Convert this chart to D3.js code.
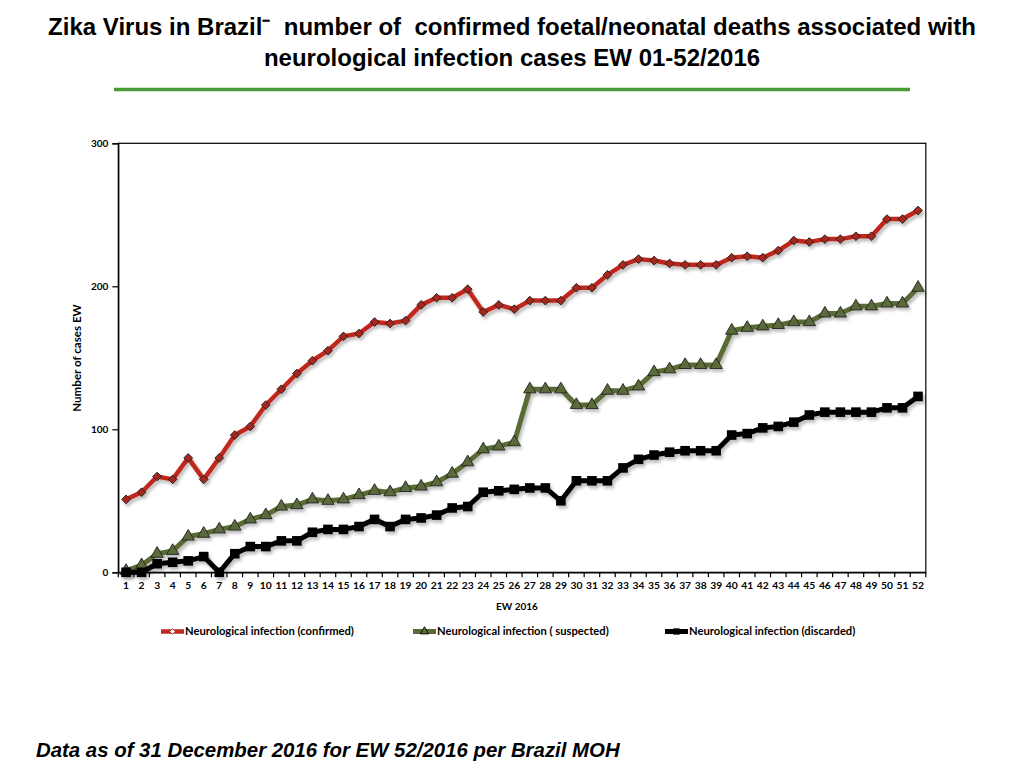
<!DOCTYPE html>
<html><head><meta charset="utf-8">
<script src="https://cdn.jsdelivr.net/npm/d3@7"></script>
<style>
html,body{margin:0;padding:0;background:#fff;}
svg{display:block;}
</style></head>
<body>
<svg id="chart" width="1024" height="768"></svg>
<script>
const weeks = d3.range(1, 53);
const confirmed = [51,56,67,65,80,65,80,96,102,117,128,139,148,155,165,167,175,174,176,187,192,192,198,182,187,184,190,190,190,199,199,208,215,219,218,216,215,215,215,220,221,220,225,232,231,233,233,235,235,247,247,253];
const suspected = [1,5,13,15,25,27,30,32,37,40,46,47,51,50,51,54,57,56,59,60,63,69,77,86,88,91,128,128,128,117,117,127,127,130,140,142,145,145,145,169,171,172,173,175,175,181,181,186,186,188,188,199];
const discarded = [0,0,6,7,8,11,0,13,18,18,22,22,28,30,30,32,37,32,37,38,40,45,46,56,57,58,59,59,50,64,64,64,73,79,82,84,85,85,85,96,97,101,102,105,110,112,112,112,112,115,115,123];
const yTicks = [0,100,200,300];
const seriesNames = ["Neurological infection (confirmed)","Neurological infection ( suspected)","Neurological infection (discarded)"];

const svg = d3.select("#chart");
const L = 118.3, R = 925.8, T = 143.3, B = 572.3;
const x = d3.scaleBand().domain(weeks).range([L, R]);
const y = d3.scaleLinear().domain([0, 300]).range([B, T]);
const cx = d => x(d) + x.bandwidth()/2;

// shadow filter
const defs = svg.append("defs");
const f = defs.append("filter").attr("id","sh").attr("x","-10%").attr("y","-10%").attr("width","120%").attr("height","130%");
f.append("feGaussianBlur").attr("in","SourceAlpha").attr("stdDeviation",1.6).attr("result","b");
f.append("feOffset").attr("in","b").attr("dx",1.5).attr("dy",3).attr("result","o");
f.append("feComponentTransfer").attr("in","o").attr("result","o2").append("feFuncA").attr("type","linear").attr("slope",0.25);
const m = f.append("feMerge"); m.append("feMergeNode").attr("in","o2"); m.append("feMergeNode").attr("in","SourceGraphic");

// Title
const title = svg.append("g").attr("font-family","Liberation Sans, Arial, sans-serif").attr("font-weight","bold").attr("font-size",24).attr("text-anchor","middle").attr("fill","#000");
title.append("text").attr("x",512).attr("y",35).attr("xml:space","preserve").style("white-space","pre")
  .text("Zika Virus in Brazil\u207B  number of  confirmed foetal/neonatal deaths associated with");
title.append("text").attr("x",512).attr("y",66).text("neurological infection cases EW 01-52/2016");
svg.append("line").attr("x1",114).attr("x2",910).attr("y1",89.5).attr("y2",89.5).attr("stroke","#4b9a3a").attr("stroke-width",3.5);

// Frame
svg.append("rect").attr("x",L).attr("y",T).attr("width",R-L).attr("height",B-T).attr("fill","none").attr("stroke","#000").attr("stroke-width",1.2);

// Y axis
const yAxis = svg.append("g").attr("transform",`translate(${L},0)`)
  .call(d3.axisLeft(y).tickValues(yTicks).tickSize(6).tickPadding(4).tickFormat(d3.format("d")));
yAxis.select(".domain").attr("stroke","#000").attr("stroke-width",1.2);
yAxis.selectAll(".tick line").attr("stroke","#000").attr("stroke-width",1.2);
yAxis.selectAll("text").attr("font-family","Lato, sans-serif").attr("font-weight","bold").attr("font-size",10).attr("fill","#000");

// X axis
const xAxis = svg.append("g").attr("transform",`translate(0,${B})`)
  .call(d3.axisBottom(x).tickSize(0).tickPadding(9));
xAxis.select(".domain").attr("stroke","#000").attr("stroke-width",1.2);
xAxis.selectAll("text").attr("font-family","Lato, sans-serif").attr("font-weight","bold").attr("font-size",10.3).attr("fill","#000");
// tick marks at band boundaries
svg.append("g").selectAll("line").data(weeks.concat([53])).join("line")
  .attr("x1", d => d <= 52 ? x(d) : R).attr("x2", d => d <= 52 ? x(d) : R)
  .attr("y1", B).attr("y2", B+5).attr("stroke","#000").attr("stroke-width",1.2);

// Axis labels
svg.append("text").attr("x",517).attr("y",610).attr("text-anchor","middle")
  .attr("font-family","Lato, sans-serif").attr("font-weight","bold").attr("font-size",10).text("EW 2016");
svg.append("text").attr("transform","translate(81,358) rotate(-90)").attr("text-anchor","middle")
  .attr("font-family","Lato, sans-serif").attr("font-weight","bold").attr("font-size",11.6).text("Number of cases EW");

const line = d3.line().x((d,i) => cx(weeks[i])).y(d => y(d));

const styles = [
  {data: confirmed, color:"#c0281d", width:4.5, marker:"diamond", mfill:"#a8281e", msize:38},
  {data: suspected, color:"#5a6b35", width:5, marker:"triangle", mfill:"#5a6b3a", msize:66},
  {data: discarded, color:"#000000", width:5, marker:"square", mfill:"#000", msize:92}
];
const symType = {diamond:d3.symbolDiamond, triangle:d3.symbolTriangle, square:d3.symbolSquare};

[1,2,0].forEach(k => {
  const s = styles[k];
  const g = svg.append("g").attr("filter","url(#sh)");
  g.append("path").datum(s.data).attr("d", line).attr("fill","none")
    .attr("stroke", s.color).attr("stroke-width", s.width).attr("stroke-linejoin","round");
  const sym = k===0 ? d3.symbol().type(d3.symbolSquare).size(s.msize) : d3.symbol().type(symType[s.marker]).size(s.msize);
  g.selectAll("path.m").data(s.data).join("path").attr("class","m")
    .attr("transform",(d,i) => `translate(${cx(weeks[i])},${y(d)})` + (k===0 ? " rotate(45)" : ""))
    .attr("d", sym)
    .attr("fill", s.mfill).attr("stroke", k===2 ? "#000" : "#222").attr("stroke-width", k===2 ? 0 : 0.9);
});

// Legend
const legendX = [161, 413, 665];
const leg = svg.append("g");
styles.forEach((s,k) => {
  const g = leg.append("g").attr("transform",`translate(${legendX[k]},631.5)`);
  g.append("line").attr("x1",0).attr("x2",23).attr("y1",0).attr("y2",0).attr("stroke",s.color).attr("stroke-width",s.width);
  const sym = k===0 ? d3.symbol().type(d3.symbolSquare).size(16) : d3.symbol().type(symType[s.marker]).size(k===1?30:40);
  g.append("path").attr("d",sym).attr("transform", "translate(11.5,0)" + (k===0?" rotate(45)":""))
    .attr("fill", k===0 ? "#fff" : s.mfill).attr("stroke", k===0 ? "#a8281e" : "#000").attr("stroke-width", k===2?0:0.9);
  g.append("text").attr("x",24).attr("y",3.8).attr("font-family","Lato, sans-serif").attr("font-weight","bold")
    .attr("font-size",11.2).attr("fill","#000").attr("xml:space","preserve").style("white-space","pre").text(seriesNames[k]);
});

// Footer
svg.append("text").attr("x",36).attr("y",757).attr("font-family","Liberation Sans, Arial, sans-serif")
  .attr("font-weight","bold").attr("font-style","italic").attr("font-size",20.4).text("Data as of 31 December 2016 for EW 52/2016 per Brazil MOH");
</script>
</body></html>
